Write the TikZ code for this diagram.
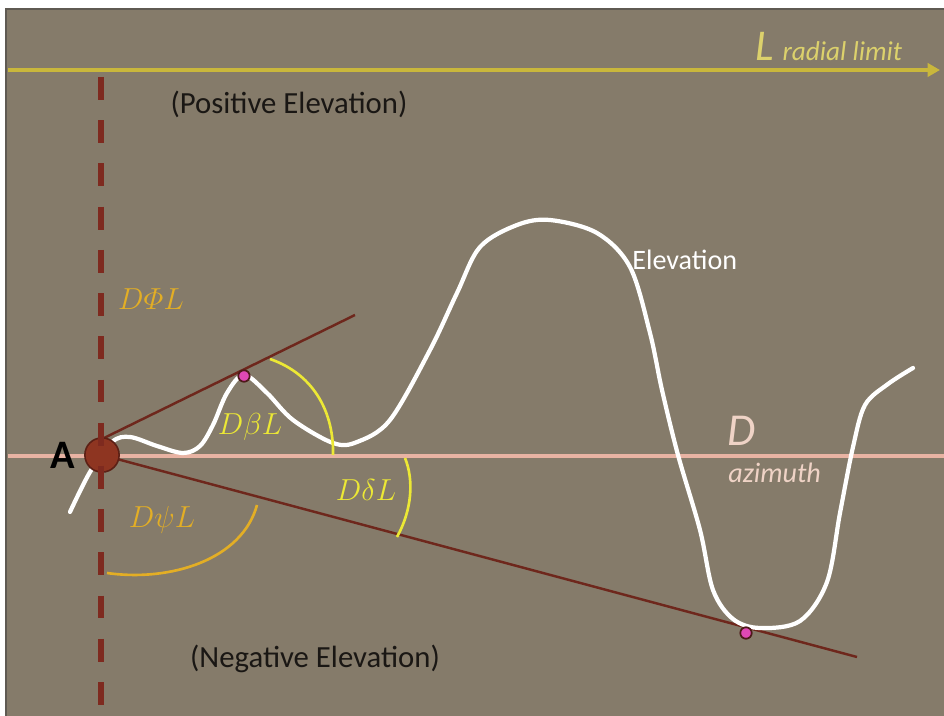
\documentclass[tikz,border=0pt]{standalone}
\usepackage{amsmath}
\usepackage{fontspec}
\newfontfamily\calfont{Carlito}
\usetikzlibrary{arrows.meta,positioning}
\definecolor{elevBg}{HTML}{857B6A}
\definecolor{elevRim}{HTML}{5F5A52}
\definecolor{elevLimit}{HTML}{C9B73C}
\definecolor{elevLimitText}{HTML}{DCD16C}
\definecolor{elevDash}{HTML}{7E2A1F}
\definecolor{elevBrown}{HTML}{6E271C}
\definecolor{elevAzim}{HTML}{E8B3A3}
\definecolor{elevAzimText}{HTML}{EFD3C6}
\definecolor{elevYellow}{HTML}{ECE835}
\definecolor{elevOrange}{HTML}{E3AE25}
\definecolor{elevDot}{HTML}{E048B4}
\definecolor{elevDotRim}{HTML}{4E1A1A}
\definecolor{elevPoint}{HTML}{8E3521}
\definecolor{elevPointRim}{HTML}{5C2015}
\definecolor{elevInk}{HTML}{1A1714}

\begin{document}
\begin{tikzpicture}[x=0.02cm,y=-0.02cm,
  brownline/.style={draw=elevBrown,line width=1.4pt},
  anglearc/.style={line width=1.5pt},
  tangentdot/.style={circle,draw=elevDotRim,fill=elevDot,line width=1pt,
                     inner sep=0pt,minimum size=6.5pt},
  anglelabel/.style={font=\fontsize{17.5}{18}\selectfont},
  zonelabel/.style={text=elevInk,font=\calfont\fontsize{17.5}{18}\selectfont}]
  \useasboundingbox (0,0) rectangle (944,716);
  % panel
  \fill[white] (0,0) rectangle (944,716);
  \fill[elevBg] (6,9) rectangle (944,716);
  \draw[elevRim,line width=1.2pt] (944,9) -- (6,9) -- (6,716);

  % reference lines
  \coordinate (limitStart) at (8,70);
  \coordinate (limitEnd) at (940,70);
  \coordinate (azimStart) at (8,456);
  \coordinate (azimEnd) at (944,456);
  \coordinate (apex) at (102,455);
  \coordinate (phiStart) at (104,438);
  \coordinate (phiEnd) at (355,315);
  \coordinate (psiEnd) at (857,657);
  \coordinate (dashTop) at (101,77);
  \coordinate (dashBottom) at (101,716);

  \draw[elevAzim,line width=2.1pt] (azimStart) -- (azimEnd);
  \draw[elevLimit,line width=2.5pt,-{Triangle[length=7pt,width=7.5pt]}]
    (limitStart) -- (limitEnd);
  \draw[brownline] (phiStart) -- (phiEnd);
  \draw[brownline] (apex) -- (psiEnd);

  % elevation profile
  \draw[white,line width=2.4pt,line cap=round] plot[smooth,tension=0.55] coordinates {
    (70,512) (90,472) (112,442) (130,437) (157,446) (183,453) (200,446)
    (213,425) (227,393) (244,375) (267,393) (293,420) (333,443) (357,442)
    (390,420) (430,350) (457,293) (480,247) (517,225) (550,220) (597,233)
    (630,267) (650,333) (662,390) (678,455) (700,530) (713,590) (733,619)
    (760,628) (800,621) (827,582) (840,513) (853,447) (865,405) (888,384)
    (913,368)};

  % angle arcs
  \draw[elevYellow,anglearc] (270,359) .. controls (316,375) and (334,415) .. (333,455);
  \draw[elevYellow,anglearc] (405,458) .. controls (414,480) and (412,510) .. (397,537);
  \draw[elevOrange,anglearc] (107,573) .. controls (170,582) and (242,560) .. (257,505);

  % point A and tangent points
  \node[circle,fill=elevPoint,draw=elevPointRim,line width=0.9pt,minimum size=19.5pt,
        inner sep=0pt] (pointA) at (apex) {};
  \draw[elevDash,line width=3pt,dash pattern=on 13pt off 11.6pt] (dashTop) -- (dashBottom);
  \node[tangentdot] (peakDot) at (244,376) {};
  \node[tangentdot] (valleyDot) at (746,633) {};

  % labels
  \node[left=5pt of pointA,text=black,font=\calfont\bfseries\fontsize{23}{23}\selectfont,
        inner sep=0pt] (labelA) {A};
  \node[anchor=base west,text=elevLimitText,inner sep=0pt] (limitLabel) at (755,61)
    {{\calfont\itshape\fontsize{25}{25}\selectfont L}\,
     {\calfont\itshape\fontsize{15.5}{16}\selectfont radial limit}};
  \node[zonelabel] (posLabel) at (289,104) {(Positive Elevation)};
  \node[zonelabel] (negLabel) at (315,659) {(Negative Elevation)};
  \node[anchor=base west,text=white,font=\calfont\fontsize{16}{16}\selectfont,
        inner sep=0pt] (elevLabel) at (632,270) {Elevation};
  \node[anchor=base west,text=elevAzimText,font=\calfont\itshape\fontsize{26}{26}\selectfont,
        inner sep=0pt] (dLabel) at (727,445) {D};
  \node[anchor=base west,text=elevAzimText,font=\calfont\itshape\fontsize{16}{16}\selectfont,
        inner sep=0pt] (azimLabel) at (728,482) {azimuth};
  \node[anglelabel,text=elevOrange] (phiLabel) at (151,299) {$D\varPhi L$};
  \node[anglelabel,text=elevYellow] (betaLabel) at (250,427) {$D\beta L$};
  \node[anglelabel,text=elevYellow] (deltaLabel) at (366,490) {$D\delta L$};
  \node[anglelabel,text=elevOrange] (psiLabel) at (162,520) {$D\psi L$};
\end{tikzpicture}
\end{document}
